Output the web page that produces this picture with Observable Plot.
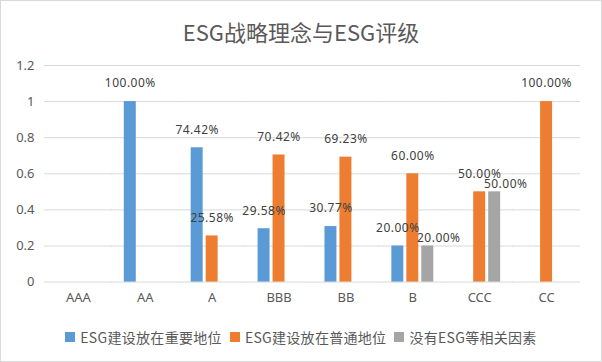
<!DOCTYPE html>
<html>
<head>
<meta charset="utf-8">
<script src="https://cdn.jsdelivr.net/npm/d3@7"></script>
<script src="https://cdn.jsdelivr.net/npm/@observablehq/plot@0.6"></script>
<style>
  body { margin: 0; background: #fff; }
  #frame { position: relative; width: 602px; height: 362px; box-sizing: border-box; border: 1px solid #d9d9d9; overflow: hidden; background: #fff; font-family: "Noto Sans CJK SC", "Noto Sans", sans-serif; }
  #title { position: absolute; left: 0; right: 0; top: 15px; text-align: center; font-size: 22px; line-height: 30px; color: #595959; }
  #chart { position: absolute; left: -1px; top: 49px; }
  #legend { position: absolute; left: 0; right: 0; top: 326px; display: flex; justify-content: center; align-items: center; gap: 8px; font-size: 14px; letter-spacing: 0.3px; color: #595959; line-height: 20px; }
  #legend .item { display: flex; align-items: center; gap: 5px; }
  #legend .sw { width: 10px; height: 10px; display: inline-block; }
  g[aria-label="text"] text { letter-spacing: 0.5px; }
</style>
</head>
<body>
<div id="frame">
  <div id="title"></div>
  <div id="chart"></div>
  <div id="legend"></div>
</div>
<script>
const titleText = "ESG战略理念与ESG评级";
const categories = ["AAA", "AA", "A", "BBB", "BB", "B", "CCC", "CC"];
const series = ["ESG建设放在重要地位", "ESG建设放在普通地位", "没有ESG等相关因素"];
const important = [0, 1, 0.7442, 0.2958, 0.3077, 0.2, 0, 0];
const ordinary  = [0, 0, 0.2558, 0.7042, 0.6923, 0.6, 0.5, 1];
const noneESG   = [0, 0, 0, 0, 0, 0.2, 0.5, 0];
const colors = ["#5B9BD5", "#ED7D31", "#A5A5A5"];
const yTicks = [0, 0.2, 0.4, 0.6, 0.8, 1, 1.2];

const seriesValues = [important, ordinary, noneESG];
const rows = categories.flatMap((c, i) => series.map((s, j) => ({category: c, series: s, value: seriesValues[j][i]})));
const fmt = d3.format(".2%");

document.getElementById("title").textContent = titleText;

const plot = Plot.plot({
  width: 602,
  height: 265,
  marginTop: 15,
  marginBottom: 33,
  marginLeft: 42,
  marginRight: 19,
  style: {fontFamily: "'Noto Sans', sans-serif", fontSize: "13px", color: "#595959", background: "transparent", overflow: "visible"},
  fx: {domain: categories, paddingInner: 0.38, paddingOuter: 0.19, label: null},
  x: {domain: series, paddingInner: 0.2, paddingOuter: 0, axis: null},
  y: {domain: [0, 1.2], label: null},
  color: {domain: series, range: colors},
  marks: [
    Plot.gridY(yTicks, {stroke: "#d9d9d9", strokeOpacity: 1, insetLeft: -13, insetRight: -13}),
    Plot.axisY(yTicks, {tickSize: 0, tickPadding: 23, tickFormat: d => String(+d.toFixed(1)), label: null, fill: "#595959"}),
    Plot.axisFx({anchor: "bottom", tickSize: 0, tickPadding: 11, label: null, fill: "#595959"}),
    Plot.barY(rows, {fx: "category", x: "series", y: "value", fill: "series"}),
    Plot.text(rows.filter(d => d.value > 0 && d.series !== series[2]), {fx: "category", x: "series", y: "value", text: d => fmt(d.value), dy: -18, fill: "#404040", fontSize: 12}),
    Plot.text(rows.filter(d => d.value > 0 && d.series === series[2]), {fx: "category", x: "series", y: "value", text: d => fmt(d.value), dx: 11, dy: -8, fill: "#404040", fontSize: 12})
  ]
});
document.getElementById("chart").appendChild(plot);

const legend = document.getElementById("legend");
series.forEach((s, i) => {
  const item = document.createElement("span");
  item.className = "item";
  const sw = document.createElement("span");
  sw.className = "sw";
  sw.style.background = colors[i];
  const t = document.createElement("span");
  t.textContent = s;
  item.appendChild(sw);
  item.appendChild(t);
  legend.appendChild(item);
});
</script>
</body>
</html>
